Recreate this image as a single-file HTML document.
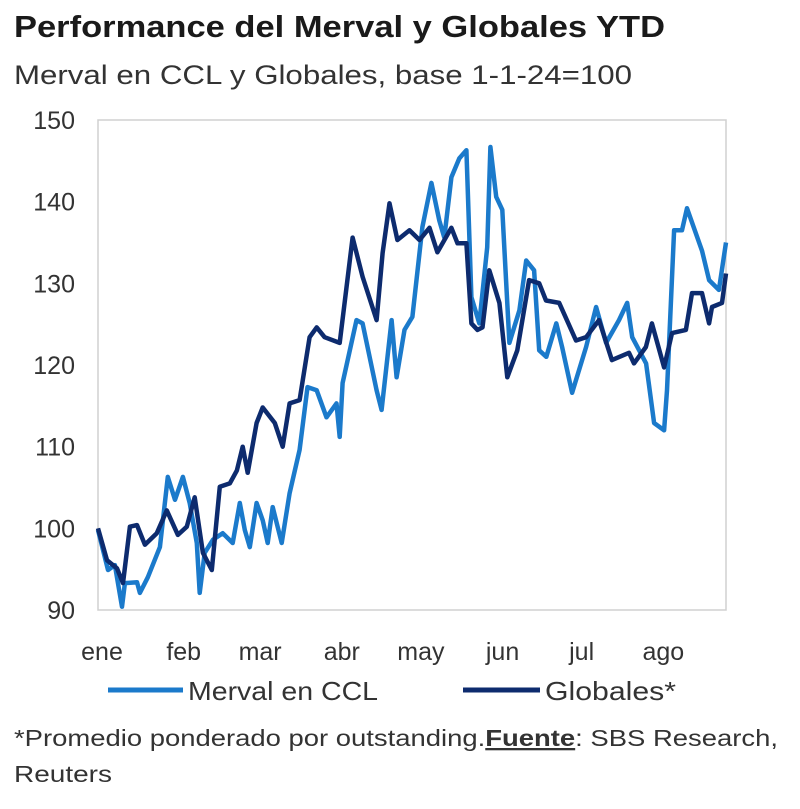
<!DOCTYPE html>
<html><head><meta charset="utf-8"><style>
html,body{margin:0;padding:0;background:#fff;width:800px;height:809px;overflow:hidden}
body{font-family:"Liberation Sans",sans-serif;color:#222}
</style></head><body>
<svg id="chart" width="800" height="809" xmlns="http://www.w3.org/2000/svg" font-family="Liberation Sans, sans-serif">
<text x="14" y="37" font-size="31" font-weight="bold" fill="#1a1a1a" textLength="651" lengthAdjust="spacingAndGlyphs">Performance del Merval y Globales YTD</text>
<text x="14" y="84" font-size="27" fill="#333" textLength="618" lengthAdjust="spacingAndGlyphs">Merval en CCL y Globales, base 1-1-24=100</text>
<rect x="98" y="120" width="628" height="490" fill="none" stroke="#d0d0d0" stroke-width="1.5"/>
<g id="yticks"></g><g id="xticks"></g><g id="series"></g>
<g>
<line x1="108" y1="690" x2="183" y2="690" stroke="#1b7acb" stroke-width="5"/>
<text x="188" y="700" font-size="26" fill="#333" textLength="190" lengthAdjust="spacingAndGlyphs">Merval en CCL</text>
<line x1="463" y1="690" x2="540" y2="690" stroke="#0d2b6e" stroke-width="5"/>
<text x="545" y="700" font-size="26" fill="#333" textLength="131" lengthAdjust="spacingAndGlyphs">Globales*</text>
</g>
<text x="14" y="746" font-size="23" fill="#333" textLength="764" lengthAdjust="spacingAndGlyphs">*Promedio ponderado por outstanding.<tspan font-weight="bold" text-decoration="underline">Fuente</tspan>: SBS Research,</text>
<text x="14" y="782" font-size="23" fill="#333" textLength="98" lengthAdjust="spacingAndGlyphs">Reuters</text>
</svg>
<script>
const yTicks=[90,100,110,120,130,140,150];
const monthLabels=["ene","feb","mar","abr","may","jun","jul","ago"];
const monthDays=[0,31,60,91,121,152,182,213];
const globalesDays=[0,3.4,7.2,9.5,12.1,14.8,17.8,22.3,26.1,30.3,33.7,36.7,39.8,43.2,46.2,50,52.7,54.9,56.8,60.2,62.5,67.1,70.1,72.7,76.5,80.3,83,86,91.7,96.6,100.4,105.7,108,110.6,113.6,118.2,122,125.8,128.8,134.1,136.4,139.8,141.7,144,145.9,148.5,152.3,155.3,159.1,163.6,167.4,170,175,181.4,185.2,190.1,195,201.5,203.4,207.9,210.2,214.8,217.8,223.1,225.4,229.2,231.9,233,236.8,238.3];
const globalesValues=[100,96.1,95.1,93.3,100.2,100.4,98,99.4,102.2,99.2,100.2,103.8,97,94.9,105.1,105.5,107.1,110,106.8,112.9,114.8,112.9,110,115.3,115.7,123.4,124.6,123.4,122.7,135.6,130.8,125.5,133.7,139.8,135.3,136.5,135.3,136.8,133.8,136.8,134.9,134.9,125.1,124.3,124.6,131.6,127.6,118.5,121.8,130.4,130,127.9,127.6,123,123.4,125.5,120.6,121.5,120.2,122.2,125.1,119.7,123.9,124.3,128.8,128.8,125.1,127.1,127.6,131.2];
const mervalDays=[0,3.8,6.4,9.1,10.2,14.8,15.9,18.9,23.5,26.5,29.2,32.2,34.8,37.5,38.6,40.5,43.6,47.3,51.1,53.8,55.7,57.6,60.2,62.5,64.4,66.3,69.7,72.7,76.5,79.5,83,86.7,90.5,91.7,92.8,98.1,100.4,105.7,107.6,111.4,113.3,116.3,119.3,123.1,126.5,129.5,131.4,134.1,137.1,139.8,141.7,144.7,147.7,148.9,151.1,153.4,156.1,159.9,162.5,165.5,167.4,170.1,173.9,176.1,179.9,185.2,189,192.8,197.7,200.8,202.7,208,211,214.8,215.9,218.6,221.6,223.5,229.2,231.9,235.6,238.3];
const mervalValues=[99.8,94.9,95.5,90.4,93.3,93.4,92.1,94,97.7,106.3,103.5,106.3,103.1,98.2,92.1,97,98.6,99.4,98.2,103.1,99.8,97.7,103.1,101,98.2,102.6,98.2,104.3,109.6,117.3,116.9,113.6,115.3,111.2,117.8,125.5,125.1,116.9,114.5,125.5,118.5,124.3,125.9,136.9,142.3,137.7,135.6,143,145.3,146.3,128.3,125.1,134.4,146.7,140.6,139,122.7,126.7,132.8,131.6,121.8,121,125.1,122.2,116.6,122.2,127.1,122.7,125.5,127.6,123.4,120.2,112.9,112,116.9,136.5,136.5,139.2,134,130.4,129.2,135];
const NS="http://www.w3.org/2000/svg";
const X0=98,X1=726,D0=0,D1=238.3,Y0=610,Y1=120,V0=90,V1=150;
function xs(d){return X0+(d-D0)/(D1-D0)*(X1-X0);}
function ys(v){return Y0-(v-V0)/(V1-V0)*(Y0-Y1);}
const yg=document.getElementById('yticks');
yTicks.forEach(v=>{
  const t=document.createElementNS(NS,'text');
  
  
  t.setAttribute('x',75);t.setAttribute('y',ys(v)+9);
  t.setAttribute('text-anchor','end');t.setAttribute('font-size','25');t.setAttribute('fill','#333');
  t.textContent=v;yg.appendChild(t);
});
const xg=document.getElementById('xticks');
monthLabels.forEach((m,i)=>{
  const t=document.createElementNS(NS,'text');
  
  
  t.setAttribute('x',xs(monthDays[i])+4);t.setAttribute('y',660);
  t.setAttribute('text-anchor','middle');t.setAttribute('font-size','25');t.setAttribute('fill','#333');
  t.textContent=m;xg.appendChild(t);
});
const sg=document.getElementById('series');
function line(days,vals,color,name){
  const p=document.createElementNS(NS,'polyline');
  
  
  p.setAttribute('points',days.map((d,i)=>xs(d).toFixed(1)+','+ys(vals[i]).toFixed(1)).join(' '));
  p.setAttribute('fill','none');p.setAttribute('stroke',color);p.setAttribute('stroke-width','4.5');
  p.setAttribute('stroke-linejoin','round');
  sg.appendChild(p);
}
line(mervalDays,mervalValues,'#1b7acb','merval-line');
line(globalesDays,globalesValues,'#0d2b6e','globales-line');
</script>
</body></html>
